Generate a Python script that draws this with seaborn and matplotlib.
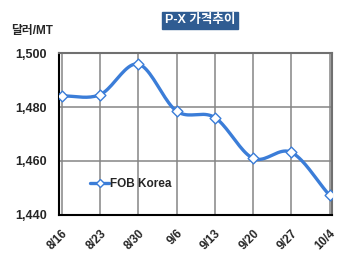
import numpy as np
import pandas as pd
import matplotlib
matplotlib.use("Agg")
import matplotlib.pyplot as plt
import seaborn as sns
from matplotlib.lines import Line2D

dates = ["8/16", "8/23", "8/30", "9/6", "9/13", "9/20", "9/27", "10/4"]
fob_korea = [1484.1, 1484.6, 1495.9, 1478.5, 1476.1, 1461.0, 1463.2, 1447.3]
y_ticks = [1440, 1460, 1480, 1500]
y_tick_labels = ["1,440", "1,460", "1,480", "1,500"]
title = "P-X 가격추이"
unit_label = "달러/MT"
series_name = "FOB Korea"

sns.set_theme(style="white")
plt.rcParams['font.family'] = ['Liberation Sans', 'Noto Sans CJK KR', 'DejaVu Sans']

LINE = "#3B7DD8"

def smooth(xs, ys, n=20):
    # Catmull-Rom style smoothing (display only, like Excel's smoothed line)
    xs = np.asarray(xs, float); ys = np.asarray(ys, float)
    px = np.concatenate([[2*xs[0]-xs[1]], xs, [2*xs[-1]-xs[-2]]])
    py = np.concatenate([[2*ys[0]-ys[1]], ys, [2*ys[-1]-ys[-2]]])
    outx, outy = [], []
    for i in range(1, len(px)-2):
        t = np.linspace(0, 1, n, endpoint=(i == len(px)-3))
        for P, out in ((px, outx), (py, outy)):
            p0, p1, p2, p3 = P[i-1], P[i], P[i+1], P[i+2]
            out.extend(0.5*((2*p1) + (-p0+p2)*t + (2*p0-5*p1+4*p2-p3)*t**2 + (-p0+3*p1-3*p2+p3)*t**3))
    return np.array(outx), np.array(outy)

df = pd.DataFrame({"x": np.arange(len(dates)), "value": fob_korea})
sx, sy = smooth(df["x"], df["value"])
curve = pd.DataFrame({"x": sx, "value": sy})

fig = plt.figure(figsize=(3.5, 2.68), dpi=100)
ax = fig.add_axes([0.169, 0.198, 0.779, 0.604])

sns.lineplot(data=curve, x="x", y="value", ax=ax, color=LINE, linewidth=2.4, zorder=3, legend=False)
sns.scatterplot(data=df, x="x", y="value", ax=ax, marker="D", s=30, facecolor="white",
                edgecolor=LINE, linewidth=1.0, zorder=4, legend=False)

ax.set_xlim(-0.07, 7.06)
ax.set_ylim(1440, 1500)
ax.set_xticks(range(len(dates)))
ax.set_xticklabels(dates, rotation=45, ha="right", rotation_mode="anchor",
                   fontsize=8.5, fontweight="bold")
ax.set_yticks(y_ticks)
ax.set_yticklabels(y_tick_labels, fontsize=9, fontweight="bold")
ax.set_xlabel("")
ax.set_ylabel("")
ax.grid(True, color="#858585", linewidth=1.1)
ax.set_axisbelow(True)
ax.tick_params(axis="y", length=3, width=1, color="black", pad=6)
ax.tick_params(axis="x", length=0, pad=9)
for s in ("left", "bottom"):
    ax.spines[s].set_color("black"); ax.spines[s].set_linewidth(1.5)
for s in ("top", "right"):
    ax.spines[s].set_color("#707070"); ax.spines[s].set_linewidth(1.5)

handle = Line2D([0, 1, 2], [0, 0, 0], color=LINE, linewidth=2.4, marker="D", markersize=4.5,
                markerfacecolor="white", markeredgecolor=LINE, markevery=[1])
ax.legend([handle], [series_name], loc="center left", bbox_to_anchor=(0.105, 0.19),
          frameon=False, handlelength=1.6, handletextpad=0.1, borderaxespad=0, borderpad=0.2,
          prop={"weight": "bold", "size": 8.5})

fig.text(0.571, 0.925, title, ha="center", va="center", color="white", fontsize=9, fontweight="bold",
         bbox=dict(boxstyle="square,pad=0.2", facecolor="#2F5C92", edgecolor="#2F5C92"))
fig.text(0.033, 0.885, unit_label, ha="left", va="center", fontsize=8.5, fontweight="bold")

fig.savefig("out.png", dpi=100)
